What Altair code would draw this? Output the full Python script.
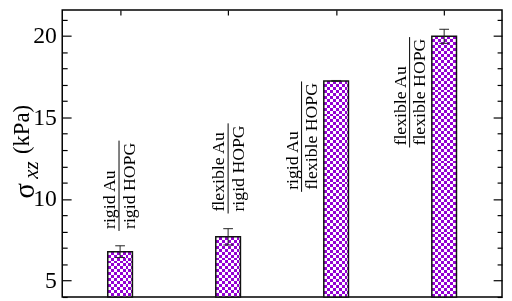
import math
import altair as alt
import pandas as pd

# ---------------- data ----------------
x_pos = [1, 2, 3, 4]
values = [6.77, 7.68, 17.24, 19.98]
errors = [0.36, 0.50, 0.03, 0.43]
num_labels = ["rigid Au", "flexible Au", "rigid Au", "flexible Au"]
den_labels = ["rigid HOPG", "rigid HOPG", "flexible HOPG", "flexible HOPG"]
label_x = [0.99, 2.0, 2.68, 3.68]
frac_lo = [8.04, 9.11, 10.44, 13.16]
frac_hi = [13.58, 14.64, 17.21, 19.93]
y_major = [5, 10, 15, 20]
y_minor = [4, 6, 7, 8, 9, 11, 12, 13, 14, 16, 17, 18, 19, 21]

# ---------------- layout ----------------
W, H = 446, 291
Y_MIN, Y_MAX = 3.99, 21.59
X_MIN, X_MAX = 0.51, 4.49
PX = H / (Y_MAX - Y_MIN)
BAR_W = 25
CELL = 3.0
FONT = "Liberation Serif"
PURPLE = (148, 0, 211)
COMP = tuple(255 - c for c in PURPLE)
COMP_HEX = "#%02x%02x%02x" % COMP

df = pd.DataFrame({
    "x": x_pos, "value": values, "err": errors,
    "num": num_labels, "den": den_labels,
    "label_x": label_x, "frac_lo": frac_lo, "frac_hi": frac_hi,
    "idx": list(range(len(x_pos))),
})

xscale = alt.Scale(domain=[X_MIN, X_MAX], nice=False, zero=False)
yscale = alt.Scale(domain=[Y_MIN, Y_MAX], nice=False, zero=False)
XN = alt.X("x:Q", scale=xscale, axis=None)
YN = alt.Y("value:Q", scale=yscale, axis=None)

base = alt.Chart(df)


def stripes(total_px, horizontal):
    n = int(math.ceil(total_px / CELL))
    stops = []
    for i in range(n):
        o1 = min(1.0, i * CELL / total_px)
        o2 = min(1.0, (i + 1) * CELL / total_px)
        c = COMP_HEX if i % 2 == 0 else "#000000"
        stops.append(alt.GradientStop(offset=o1, color=c))
        stops.append(alt.GradientStop(offset=o2, color=c))
    if horizontal:
        return alt.LinearGradient(gradient="linear", stops=stops, x1=0, x2=0, y1=0, y2=1)
    return alt.LinearGradient(gradient="linear", stops=stops, x1=0, x2=1, y1=0, y2=0)


bar_enc = dict(x=XN, y=YN, y2=alt.Y2(datum=Y_MIN))

layers = []
# vertical stripes
layers.append(base.mark_bar(size=BAR_W, fill=stripes(BAR_W, False), strokeWidth=0).encode(**bar_enc))
# horizontal stripes per bar (difference blend -> XOR checker)
for i, v in enumerate(values):
    hpx = (v - Y_MIN) * PX
    layers.append(
        base.transform_filter(alt.datum.idx == i)
        .mark_bar(size=BAR_W, fill=stripes(hpx, True), strokeWidth=0, blend="difference")
        .encode(**bar_enc)
    )
# white difference -> purple/white
layers.append(base.mark_bar(size=BAR_W, fill="#ffffff", strokeWidth=0, blend="difference").encode(**bar_enc))
# outline
layers.append(base.mark_bar(size=BAR_W, fillOpacity=0, stroke="#111111", strokeWidth=1.5).encode(**bar_enc))

# error bars
eb = base.transform_calculate(
    lo="datum.value - datum.err", hi="datum.value + datum.err",
    xl="datum.x - 0.045", xr="datum.x + 0.045",
)
layers.append(eb.mark_rule(color="#222222", strokeWidth=1).encode(
    x=XN, y=alt.Y("lo:Q", scale=yscale, axis=None), y2="hi:Q"))
layers.append(eb.mark_rule(color="#222222", strokeWidth=1).encode(
    x=alt.X("xl:Q", scale=xscale, axis=None), x2="xr:Q", y=alt.Y("lo:Q", scale=yscale, axis=None)))
layers.append(eb.mark_rule(color="#222222", strokeWidth=1).encode(
    x=alt.X("xl:Q", scale=xscale, axis=None), x2="xr:Q", y=alt.Y("hi:Q", scale=yscale, axis=None)))

# fraction labels
LX = alt.X("label_x:Q", scale=xscale, axis=None)
layers.append(base.mark_rule(color="black", strokeWidth=1).encode(
    x=LX, y=alt.Y("frac_lo:Q", scale=yscale, axis=None), y2="frac_hi:Q"))
layers.append(base.mark_text(angle=270, align="left", baseline="bottom", dx=2, dy=0,
                             font=FONT, fontSize=18, color="black").encode(
    x=LX, y=alt.Y("frac_lo:Q", scale=yscale, axis=None), text="num:N"))
layers.append(base.mark_text(angle=270, align="left", baseline="top", dx=2, dy=2,
                             font=FONT, fontSize=18, color="black").encode(
    x=LX, y=alt.Y("frac_lo:Q", scale=yscale, axis=None), text="den:N"))


# axes (ticks pointing inward)
def yaxis_layer(orient, vals, ts, labels):
    return base.mark_point(opacity=0).encode(
        x=XN,
        y=alt.Y("value:Q", scale=yscale, axis=alt.Axis(
            orient=orient, values=vals, tickSize=ts, offset=-ts, domain=False, grid=False,
            labels=labels, title=None, tickColor="black", tickWidth=1.2,
            labelFont=FONT, labelFontSize=24, labelColor="black", labelPadding=6,
            labelFontWeight="normal")))


def xaxis_layer(orient, ts):
    return base.mark_point(opacity=0).encode(
        x=alt.X("x:Q", scale=xscale, axis=alt.Axis(
            orient=orient, values=x_pos, tickSize=ts, offset=-ts, domain=False, grid=False,
            labels=False, title=None, tickColor="black", tickWidth=1.2)),
        y=YN)


layers.append(yaxis_layer("left", y_major, 9, True))
layers.append(yaxis_layer("left", y_minor, 5, False))
layers.append(yaxis_layer("right", y_major, 9, False))
layers.append(yaxis_layer("right", y_minor, 5, False))
layers.append(xaxis_layer("top", 5))
layers.append(xaxis_layer("bottom", 5))

# y title: sigma_xz (kPa)
layers.append(alt.Chart(pd.DataFrame({"t": ["σ"]})).mark_text(
    angle=270, align="left", baseline="middle", font=FONT, fontSize=29, color="black").encode(
    x=alt.value(-38), y=alt.value(191), text="t:N"))
layers.append(alt.Chart(pd.DataFrame({"t": ["xz"]})).mark_text(
    angle=270, align="left", baseline="alphabetic", font=FONT, fontSize=21, fontStyle="italic",
    color="black").encode(x=alt.value(-25), y=alt.value(171), text="t:N"))
layers.append(alt.Chart(pd.DataFrame({"t": ["(kPa)"]})).mark_text(
    angle=270, align="left", baseline="alphabetic", font=FONT, fontSize=23, color="black").encode(
    x=alt.value(-34), y=alt.value(146), text="t:N"))

chart = alt.layer(*layers).resolve_scale(x="shared", y="shared").resolve_axis(
    x="independent", y="independent"
).properties(
    width=W, height=H, background="white",
    autosize=alt.AutoSizeParams(type="none"),
    padding={"left": 55, "top": 0, "right": 2, "bottom": 2},
).configure_view(stroke="black", strokeWidth=1.5)

chart.save("out.html", embed_options={"renderer": "svg", "actions": False})
